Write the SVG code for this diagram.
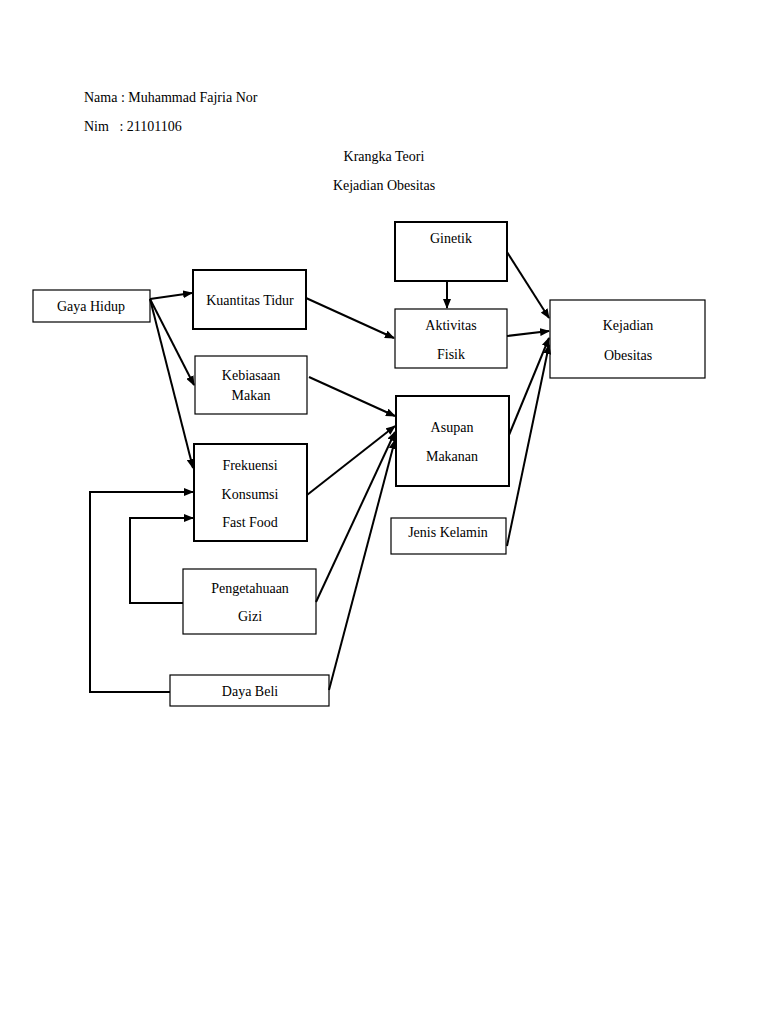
<svg xmlns="http://www.w3.org/2000/svg" width="768" height="1024" viewBox="0 0 768 1024">
<style>
text{font-family:"Liberation Serif",serif;font-size:14px;fill:#000}
.c{text-anchor:middle}
rect{fill:#fff;stroke:#000;stroke-width:1.2}
.t{stroke-width:2}
line,polyline{stroke:#000;stroke-width:2;fill:none}
</style>
<defs><marker id="a" markerWidth="10" markerHeight="8" refX="9" refY="4" orient="auto" markerUnits="userSpaceOnUse"><path d="M0,0L10,4L0,8z" fill="#000"/></marker></defs>
<rect x="0" y="0" width="768" height="1024" style="stroke:none"/>
<text x="84" y="102">Nama : Muhammad Fajria Nor</text>
<text x="84" y="131" xml:space="preserve">Nim   : 21101106</text>
<text class="c" x="384" y="161">Krangka Teori</text>
<text class="c" x="384" y="190">Kejadian Obesitas</text>
<g id="gaya"><rect x="33" y="290" width="117" height="32"/><text class="c" x="91" y="311">Gaya Hidup</text></g>
<g id="kuantitas"><rect class="t" x="193" y="270" width="113" height="59"/><text class="c" x="250" y="305">Kuantitas Tidur</text></g>
<g id="kebiasaan"><rect x="195" y="356" width="112" height="58"/><text class="c" x="251" y="380">Kebiasaan</text><text class="c" x="251" y="400">Makan</text></g>
<g id="frekuensi"><rect class="t" x="194" y="444" width="113" height="97"/><text class="c" x="250" y="470">Frekuensi</text><text class="c" x="250" y="499">Konsumsi</text><text class="c" x="250" y="527">Fast Food</text></g>
<g id="pengetahuaan"><rect x="183" y="569" width="133" height="65"/><text class="c" x="250" y="593">Pengetahuaan</text><text class="c" x="250" y="621">Gizi</text></g>
<g id="daya"><rect x="170" y="675" width="159" height="31"/><text class="c" x="250" y="696">Daya Beli</text></g>
<g id="ginetik"><rect class="t" x="395" y="222" width="112" height="59"/><text class="c" x="451" y="243">Ginetik</text></g>
<g id="aktivitas"><rect x="395" y="309" width="112" height="59"/><text class="c" x="451" y="330">Aktivitas</text><text class="c" x="451" y="359">Fisik</text></g>
<g id="asupan"><rect class="t" x="396" y="396" width="113" height="90"/><text class="c" x="452" y="432">Asupan</text><text class="c" x="452" y="461">Makanan</text></g>
<g id="jenis"><rect x="391" y="518" width="115" height="36"/><text class="c" x="448" y="537">Jenis Kelamin</text></g>
<g id="kejadian"><rect x="550" y="300" width="155" height="78"/><text class="c" x="628" y="330">Kejadian</text><text class="c" x="628" y="360">Obesitas</text></g>
<g id="connectors">
<line x1="150" y1="299" x2="192" y2="293" marker-end="url(#a)"/>
<line x1="150" y1="299" x2="194" y2="385" marker-end="url(#a)"/>
<line x1="150" y1="299" x2="193" y2="468" marker-end="url(#a)"/>
<line x1="306" y1="298" x2="394" y2="338" marker-end="url(#a)"/>
<line x1="447" y1="281" x2="447" y2="308" marker-end="url(#a)"/>
<line x1="309" y1="377" x2="395" y2="416" marker-end="url(#a)"/>
<line x1="307" y1="495" x2="395" y2="426" marker-end="url(#a)"/>
<line x1="316" y1="602" x2="395" y2="432" marker-end="url(#a)"/>
<line x1="329" y1="690" x2="395" y2="440" marker-end="url(#a)"/>
<line x1="507" y1="252" x2="549" y2="318" marker-end="url(#a)"/>
<line x1="507" y1="336" x2="549" y2="331" marker-end="url(#a)"/>
<line x1="509" y1="435" x2="549" y2="338" marker-end="url(#a)"/>
<line x1="507" y1="546" x2="549" y2="345" marker-end="url(#a)"/>
<polyline points="170,692 90,692 90,492 193,492" marker-end="url(#a)"/>
<polyline points="183,603 130,603 130,518 193,518" marker-end="url(#a)"/>
</g>
</svg>
